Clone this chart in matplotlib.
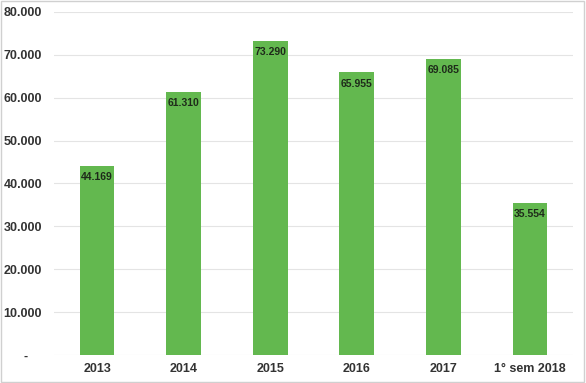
import matplotlib.pyplot as plt
import numpy as np

plt.rcParams['font.family'] = ['Liberation Sans', 'DejaVu Sans']

# Data
categories = ['2013', '2014', '2015', '2016', '2017', '1° sem 2018']
values = [44169, 61310, 73290, 65955, 69085, 35554]
labels = ['44.169', '61.310', '73.290', '65.955', '69.085', '35.554']
yticks = [0, 10000, 20000, 30000, 40000, 50000, 60000, 70000, 80000]
ytick_labels = ['-    ', '10.000', '20.000', '30.000', '40.000', '50.000',
                '60.000', '70.000', '80.000']

fig = plt.figure(figsize=(5.86, 3.83), dpi=100)
ax = fig.add_axes([0.092, 0.073, 0.886, 0.896])

x = np.arange(len(categories))
ax.bar(x, values, width=0.4, color='#63b84f', zorder=2)

for xi, v, lab in zip(x, values, labels):
    ax.text(xi, v - 1500, lab, ha='center', va='top', fontsize=7.5,
            fontweight='bold', color='#1e2a1a', zorder=3)

ax.set_xlim(-0.5, len(categories) - 0.5)
ax.set_ylim(0, 80000)
ax.set_yticks(yticks)
ax.set_yticklabels(ytick_labels)
ax.set_xticks(x)
ax.set_xticklabels(categories)
ax.tick_params(axis='both', length=0, labelsize=9, labelcolor='#333333')
for t in ax.get_xticklabels() + ax.get_yticklabels():
    t.set_fontweight('bold')
ax.tick_params(axis='y', pad=8.5)
ax.tick_params(axis='x', pad=6)

ax.grid(axis='y', color='#e4e4e4', linewidth=0.8, zorder=0)
for s in ax.spines.values():
    s.set_visible(False)

# thin light frame around the whole picture
fig.patches.append(plt.Rectangle((0.002, 0.003), 0.994, 0.994, fill=False,
                                 edgecolor='#d0d0d0', linewidth=1,
                                 transform=fig.transFigure))

fig.savefig('out.png', dpi=100)
